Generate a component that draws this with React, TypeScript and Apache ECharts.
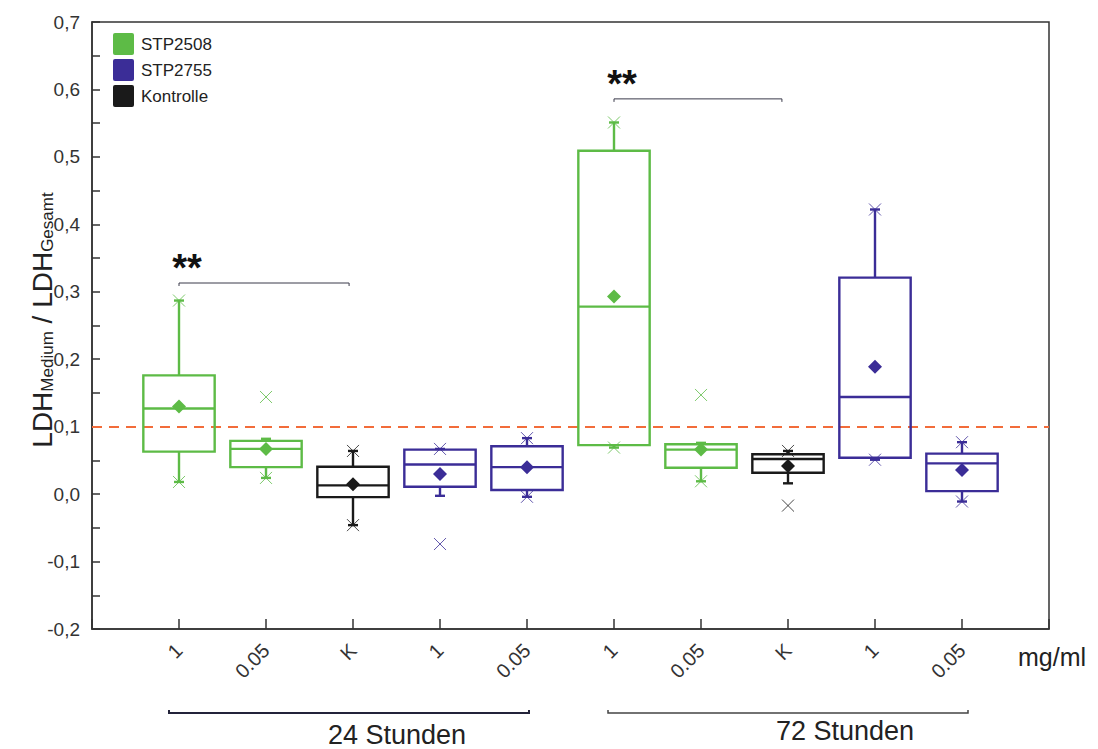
import React, { useEffect, useRef } from 'react';
import * as echarts from 'echarts';

// ---- data ----
const categories = ['1', '0.05', 'K', '1', '0.05', '1', '0.05', 'K', '1', '0.05'];
const treatment = ['STP2508', 'STP2508', 'Kontrolle', 'STP2755', 'STP2755', 'STP2508', 'STP2508', 'Kontrolle', 'STP2755', 'STP2755'];
const whiskerLow = [0.018, 0.024, -0.046, -0.0025, -0.004, 0.069, 0.019, 0.016, 0.051, -0.011];
const q1 = [0.063, 0.040, -0.0045, 0.011, 0.006, 0.0727, 0.039, 0.0316, 0.054, 0.0045];
const median = [0.127, 0.067, 0.013, 0.044, 0.040, 0.278, 0.066, 0.052, 0.144, 0.0455];
const q3 = [0.176, 0.079, 0.0405, 0.066, 0.071, 0.509, 0.074, 0.059, 0.321, 0.060];
const whiskerHigh = [0.287, 0.082, 0.064, 0.067, 0.083, 0.551, 0.076, 0.064, 0.422, 0.077];
const means = [0.130, 0.067, 0.0145, 0.030, 0.040, 0.293, 0.066, 0.0415, 0.189, 0.0356];

const crossX = [1, 1, 2, 2, 3, 3, 4, 4, 5, 5, 6, 6, 7, 7, 8, 8, 9, 9, 10, 10];
const crossY = [0.287, 0.018, 0.144, 0.024, 0.064, -0.046, 0.067, -0.074, 0.083, -0.004,
  0.551, 0.069, 0.147, 0.019, 0.064, -0.017, 0.422, 0.051, 0.077, -0.011];

const sigStart = [1, 6];
const sigEnd = [2.955, 7.93];
const sigLevel = [0.313, 0.586];
const sigText = ['**', '**'];

const refLine = 0.1;
const seriesNames = ['STP2508', 'STP2755', 'Kontrolle'];
const seriesColors: Record<string, string> = { STP2508: '#5dbb46', STP2755: '#3b2d97', Kontrolle: '#1a1a1a' };

const FONT = '"Liberation Sans", Arial, Helvetica, sans-serif';
const LEGEND_ICON = 'path://M2,0H19Q21,0 21,2V20Q21,22 19,22H2Q0,22 0,20V2Q0,0 2,0Z';

function renderBox(params: any, api: any) {
  const x = api.value(0);
  const low = api.value(1), a = api.value(2), med = api.value(3), b = api.value(4), high = api.value(5), mean = api.value(6);
  const c = (y: number) => api.coord([x, y]);
  const pLow = c(low), pQ1 = c(a), pMed = c(med), pQ3 = c(b), pHigh = c(high), pMean = c(mean);
  const cx = pMed[0];
  const half = api.size([1, 0])[0] * 0.41;
  const cap = 5;
  const color = api.visual('color');
  const lw = 2.4;
  const ls = { stroke: color, lineWidth: lw };
  const children: any[] = [
    { type: 'rect', shape: { x: cx - half, y: pQ3[1], width: 2 * half, height: pQ1[1] - pQ3[1] }, style: { fill: 'transparent', stroke: color, lineWidth: lw } },
    { type: 'line', shape: { x1: cx - half, y1: pMed[1], x2: cx + half, y2: pMed[1] }, style: ls },
    { type: 'line', shape: { x1: cx, y1: pQ3[1], x2: cx, y2: pHigh[1] }, style: ls },
    { type: 'line', shape: { x1: cx - cap, y1: pHigh[1], x2: cx + cap, y2: pHigh[1] }, style: ls },
    { type: 'line', shape: { x1: cx, y1: pQ1[1], x2: cx, y2: pLow[1] }, style: ls },
    { type: 'line', shape: { x1: cx - cap, y1: pLow[1], x2: cx + cap, y2: pLow[1] }, style: ls },
    {
      type: 'polygon',
      shape: { points: [[cx, pMean[1] - 7], [cx + 7, pMean[1]], [cx, pMean[1] + 7], [cx - 7, pMean[1]]] },
      style: { fill: color },
    },
  ];
  return { type: 'group', children };
}

function renderCross(params: any, api: any) {
  const p = api.coord([api.value(0), api.value(1)]);
  const color = api.visual('color');
  const s = 6;
  const st = { stroke: color, lineWidth: 1, opacity: 0.8 };
  return {
    type: 'group',
    children: [
      { type: 'line', shape: { x1: p[0] - s, y1: p[1] - s, x2: p[0] + s, y2: p[1] + s }, style: st },
      { type: 'line', shape: { x1: p[0] - s, y1: p[1] + s, x2: p[0] + s, y2: p[1] - s }, style: st },
    ],
  };
}

function renderBracket(params: any, api: any) {
  const p1 = api.coord([api.value(0), api.value(2)]);
  const p2 = api.coord([api.value(1), api.value(2)]);
  const label = sigText[params.dataIndex];
  return {
    type: 'group',
    children: [
      {
        type: 'polyline',
        shape: { points: [[p1[0], p1[1] + 3], [p1[0], p1[1]], [p2[0], p2[1]], [p2[0], p2[1] + 3]] },
        style: { fill: 'none', stroke: '#3a3a4a', lineWidth: 1 },
      },
      {
        type: 'text',
        x: p1[0] + 8,
        y: p1[1] - 15,
        style: { text: label, fontSize: 38, fontWeight: 'bold', fontFamily: FONT, fill: '#111', align: 'center', verticalAlign: 'middle' },
      },
    ],
  };
}

export default function App() {
  const ref = useRef<HTMLDivElement>(null);
  useEffect(() => {
    document.body.style.margin = '0';
    if (!ref.current) return;
    const chart = echarts.init(ref.current, null, { renderer: 'svg' });

    const boxSeries = seriesNames.map((name, si) => ({
      name,
      type: 'custom',
      renderItem: renderBox,
      itemStyle: { color: seriesColors[name] },
      encode: { x: 0, y: [1, 2, 3, 4, 5, 6] },
      data: categories
        .map((_, i) => i)
        .filter((i) => treatment[i] === name)
        .map((i) => [i + 1, whiskerLow[i], q1[i], median[i], q3[i], whiskerHigh[i], means[i]]),
      z: 3,
      ...(si === 0
        ? {
            markLine: {
              silent: true,
              symbol: ['none', 'none'],
              label: { show: false },
              lineStyle: { color: '#f26c3a', type: [10, 7], width: 2 },
              data: [{ yAxis: refLine }],
              z: 2,
            },
          }
        : {}),
    }));

    const crossSeries = seriesNames.map((name) => ({
      name,
      type: 'custom',
      renderItem: renderCross,
      itemStyle: { color: seriesColors[name] },
      encode: { x: 0, y: 1 },
      data: crossX
        .map((x, k) => [x, crossY[k]])
        .filter((d) => treatment[(d[0] as number) - 1] === name),
      z: 4,
    }));

    const bracketSeries = {
      name: 'sig',
      type: 'custom',
      renderItem: renderBracket,
      encode: { x: [0, 1], y: 2 },
      data: sigStart.map((s, i) => [s, sigEnd[i], sigLevel[i]]),
      z: 5,
    };

    chart.setOption({
      animation: false,
      backgroundColor: '#fff',
      textStyle: { fontFamily: FONT },
      grid: { left: 92, top: 22, right: 49, bottom: 120, show: true, borderColor: '#333', borderWidth: 1.5, backgroundColor: 'transparent' },
      legend: {
        data: seriesNames,
        orient: 'vertical',
        left: 113,
        top: 33,
        padding: 0,
        itemWidth: 21,
        itemHeight: 22,
        itemGap: 4,
        icon: LEGEND_ICON,
        selectedMode: false,
        textStyle: { fontSize: 17, color: '#222', fontFamily: FONT, padding: [0, 0, 0, 2] },
      },
      xAxis: {
        type: 'value',
        min: 0,
        max: 11,
        interval: 1,
        splitLine: { show: false },
        axisLine: { show: true, onZero: false, lineStyle: { color: '#333', width: 1.5 } },
        axisTick: { show: true, inside: true, length: 10, lineStyle: { color: '#333', width: 1.5 } },
        axisLabel: {
          rotate: 45,
          margin: 18,
          fontSize: 20,
          color: '#333',
          fontFamily: FONT,
          formatter: (v: number) => categories[v - 1] ?? '',
        },
      },
      yAxis: {
        type: 'value',
        min: -0.2,
        max: 0.7,
        interval: 0.1,
        splitLine: { show: false },
        axisLine: { show: true, onZero: false, lineStyle: { color: '#333', width: 1.5 } },
        axisTick: { show: true, inside: true, length: 8, lineStyle: { color: '#333', width: 1.5 } },
        minorTick: { show: true, splitNumber: 2, length: 8, lineStyle: { color: '#333', width: 1.5 } },
        axisLabel: {
          margin: 12,
          fontSize: 19,
          color: '#333',
          fontFamily: FONT,
          formatter: (v: number) => v.toFixed(1).replace('.', ','),
        },
      },
      graphic: [
        {
          type: 'text',
          x: 42,
          y: 320,
          rotation: Math.PI / 2,
          style: {
            text: '{a|LDH}{s|Medium}{a| / LDH}{s|Gesamt}',
            align: 'center',
            verticalAlign: 'middle',
            fill: '#222',
            rich: {
              a: { fontSize: 28, fontFamily: FONT, fill: '#222', lineHeight: 28, verticalAlign: 'top' },
              s: { fontSize: 17, fontFamily: FONT, fill: '#222', lineHeight: 17, verticalAlign: 'bottom' },
            },
          },
        },
        {
          type: 'text',
          x: 1018,
          y: 657,
          style: { text: 'mg/ml', fontSize: 25, fontFamily: FONT, fill: '#222', align: 'left', verticalAlign: 'middle' },
        },
        {
          type: 'polyline',
          shape: { points: [[169, 710], [169, 713], [529, 713], [529, 710]] },
          style: { fill: 'none', stroke: '#23233a', lineWidth: 2 },
        },
        {
          type: 'text',
          x: 397,
          y: 735,
          style: { text: '24 Stunden', fontSize: 27, fontFamily: FONT, fill: '#222', align: 'center', verticalAlign: 'middle' },
        },
        {
          type: 'polyline',
          shape: { points: [[608, 710], [608, 713], [968, 713], [968, 710]] },
          style: { fill: 'none', stroke: '#444', lineWidth: 1.5 },
        },
        {
          type: 'text',
          x: 845,
          y: 731,
          style: { text: '72 Stunden', fontSize: 27, fontFamily: FONT, fill: '#222', align: 'center', verticalAlign: 'middle' },
        },
      ],
      series: [...boxSeries, ...crossSeries, bracketSeries],
    });
    return () => chart.dispose();
  }, []);
  return <div ref={ref} style={{ width: 1098, height: 749 }} />;
}
